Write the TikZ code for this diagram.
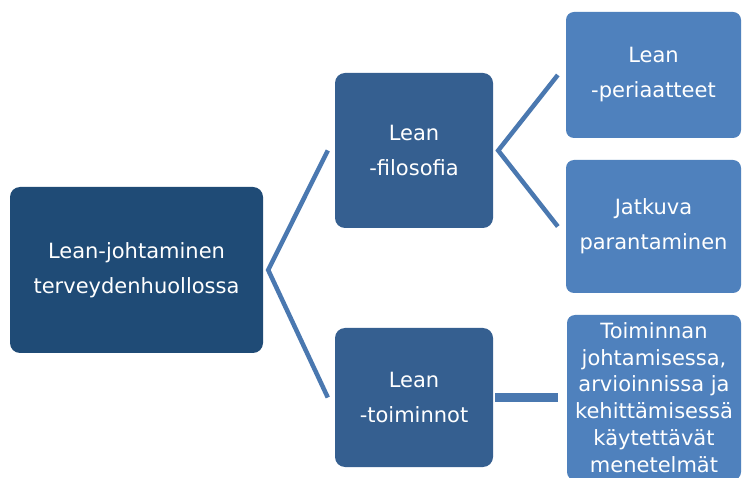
\documentclass[tikz,border=0pt]{standalone}
\usepackage{fontspec}
\setmainfont{DejaVu Sans}
\usetikzlibrary{calc}
\definecolor{rootc}{HTML}{1F4B76}
\definecolor{midc}{HTML}{355F90}
\definecolor{leafc}{HTML}{4F81BD}
\definecolor{linec}{HTML}{4A78B0}
\begin{document}
\begin{tikzpicture}[x=1pt,y=-1pt,
  box/.style={rounded corners=10pt, inner sep=0pt, align=center, text=white,
    font=\fontsize{21}{35}\selectfont},
  rootbox/.style={box, fill=rootc, minimum width=253pt, minimum height=166pt},
  midbox/.style={box, fill=midc, minimum width=158pt},
  leafbox/.style={box, fill=leafc, rounded corners=8pt, minimum width=175pt},
  conn/.style={draw=linec, line width=4.5pt, line join=miter, line cap=butt},
  hconn/.style={draw=linec, line width=9pt, line cap=butt}]
\useasboundingbox (0,0) rectangle (742,478);
\fill[white] (0,0) rectangle (742,478);
\clip (0,0) rectangle (742,478);

\node[rootbox] (root) at (136.5,270) {Lean-johtaminen\\terveydenhuollossa};
\node[midbox, minimum height=155pt] (filo) at (414,150.5) {Lean\\-filosofia};
\node[midbox, minimum height=139pt] (toim) at (414,397.5) {Lean\\-toiminnot};
\node[leafbox, minimum height=126pt] (peri) at (653.5,75) {Lean\\-periaatteet};
\node[leafbox, minimum height=133pt] (jatk) at (653.5,226.5) {Jatkuva\\parantaminen};
\node[leafbox, minimum width=174pt, minimum height=165pt,
  font=\fontsize{21}{26.7}\selectfont] (tmen) at (654,397.5)
  {Toiminnan\\johtamisessa,\\arvioinnissa ja\\kehittämisessä\\käytettävät\\menetelmät};

\coordinate (v1) at ($(root.east)+(5,0)$);
\coordinate (e1) at ($(filo.west)+(-7,0)$);
\coordinate (e2) at ($(toim.west)+(-7,0)$);
\draw[conn] (e1) -- (v1) -- (e2);

\coordinate (v2) at ($(filo.east)+(5,0)$);
\coordinate (e3) at ($(peri.west)+(-8,0)$);
\coordinate (e4) at ($(jatk.west)+(-8,0)$);
\draw[conn] (e3) -- (v2) -- (e4);

\coordinate (h1) at ($(toim.east)+(2,0)$);
\coordinate (h2) at ($(tmen.west)+(-9,0)$);
\draw[hconn] (h1) -- (h2);
\end{tikzpicture}
\end{document}
